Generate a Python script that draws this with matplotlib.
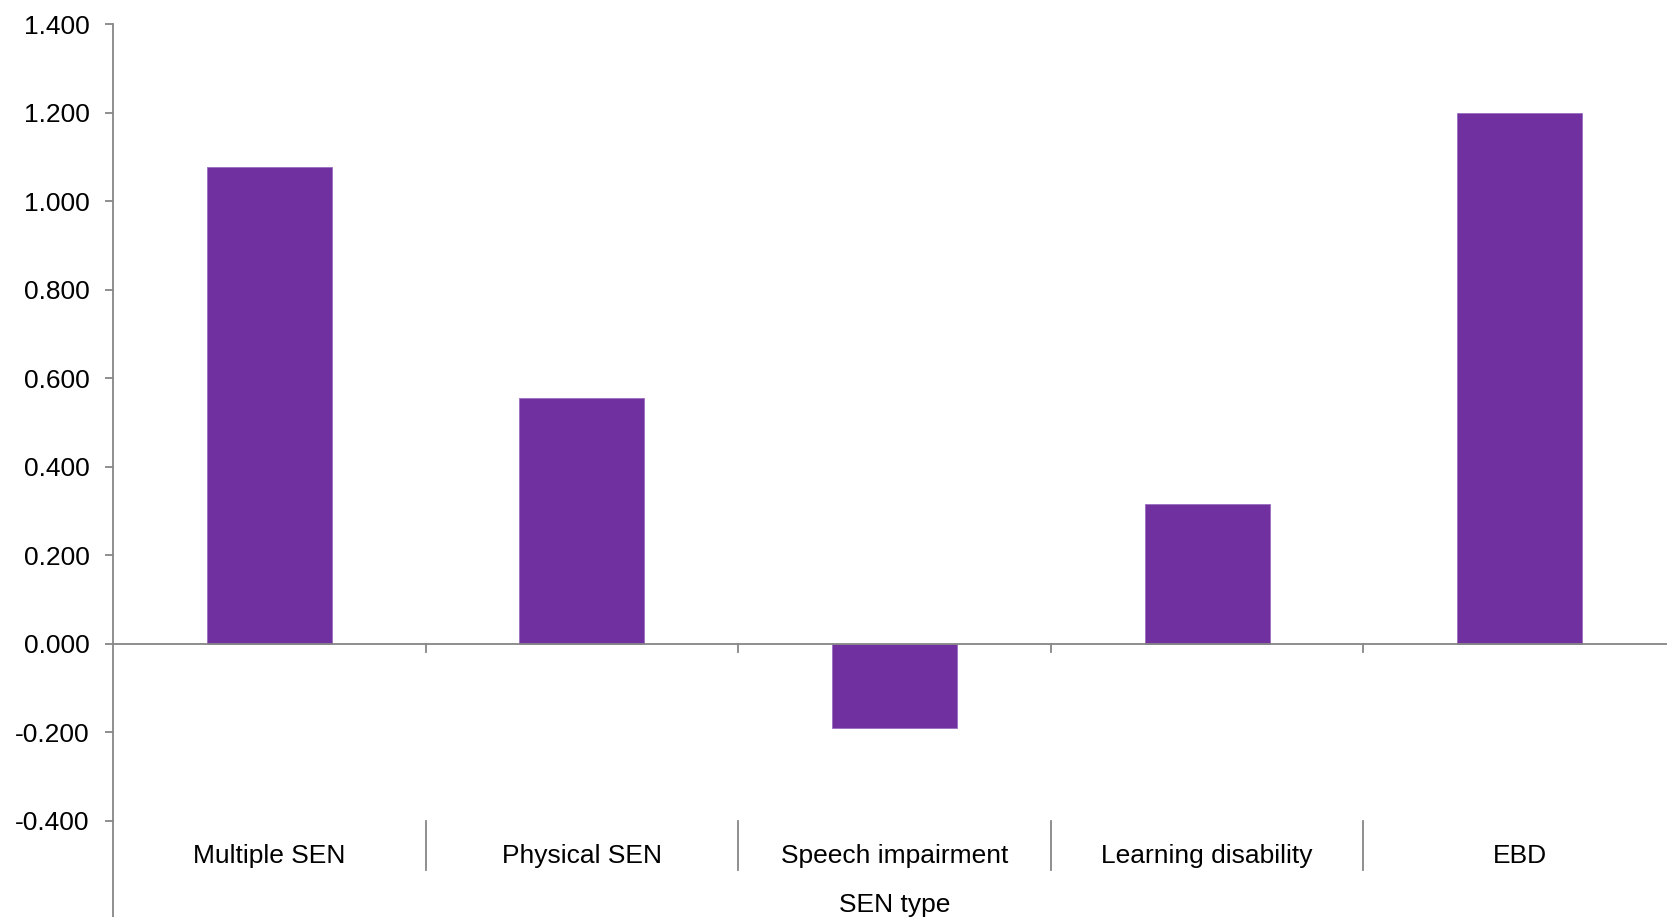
import matplotlib.pyplot as plt
import numpy as np

plt.rcParams['font.family'] = ['Liberation Sans', 'DejaVu Sans']
plt.rcParams['axes.unicode_minus'] = False

# SEN type effects
categories = ['Multiple SEN', 'Physical SEN', 'Speech impairment', 'Learning disability', 'EBD']
values = [1.078, 0.555, -0.190, 0.315, 1.200]
yticks = [-0.4, -0.2, 0.0, 0.2, 0.4, 0.6, 0.8, 1.0, 1.2, 1.4]

bar_color = '#7030A0'
axis_color = '#868686'

fig = plt.figure(figsize=(16.67, 9.17), dpi=100)
ax = fig.add_axes([0.0678, 0.1047, 0.9376, 0.8691])

x = np.arange(len(categories))
ax.bar(x, values, width=0.4, color=bar_color, edgecolor='#9a6cc0', linewidth=0.6, zorder=2)

ax.set_xlim(-0.5, len(categories) - 0.5)
ax.set_ylim(-0.4, 1.4)
ax.set_yticks(yticks)
ax.set_yticklabels([f'{v:.3f}' for v in yticks])
ax.tick_params(axis='y', direction='out', length=6, width=1.3, color=axis_color,
               labelsize=19, pad=11)
ax.set_xticks([])

for s in ['top', 'right', 'bottom']:
    ax.spines[s].set_visible(False)
ax.spines['left'].set_color(axis_color)
ax.spines['left'].set_linewidth(1.3)

# zero line with small category ticks
ax.axhline(0, color=axis_color, linewidth=1.3, zorder=3)
bounds = np.arange(len(categories) - 1) + 0.5
for b in bounds:
    ax.plot([b, b], [0, -0.018], color=axis_color, linewidth=1.3, zorder=3)

# category labels below the plot area, with dividers
trans = ax.get_xaxis_transform()
for b in bounds:
    ax.plot([b, b], [0, -0.0615], transform=trans, color=axis_color,
            linewidth=1.3, clip_on=False)
ax.plot([-0.5, -0.5], [0, -0.13], transform=trans, color=axis_color,
        linewidth=1.3, clip_on=False)
for xi, lab in zip(x, categories):
    ax.text(xi, -0.0435, lab, transform=trans, ha='center', va='center', fontsize=19)

ax.text(0.5, -0.106, 'SEN type', transform=ax.transAxes, ha='center', va='center',
        fontsize=19)

fig.savefig('out.png', dpi=100, facecolor='white')
